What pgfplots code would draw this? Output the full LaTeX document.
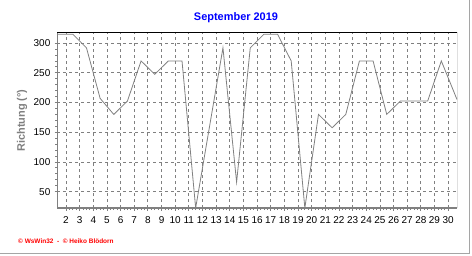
\documentclass[border=0pt]{standalone}
\usepackage{fontspec}
\setmainfont{Liberation Sans}
\usepackage{pgfplots}
\pgfplotsset{compat=1.18}
\definecolor{gridgray}{RGB}{128,128,128}
\definecolor{titleblue}{RGB}{0,0,255}
\definecolor{framegray}{RGB}{165,165,165}
\definecolor{footred}{RGB}{255,0,0}
\pgfplotstableread{
x y
1.30 315
2.5 315
3.5 292
4.5 207
5.5 180
6.5 202.5
7.5 270
8.5 247.5
9.5 270
10.5 270
11.5 22.5
12.5 157.5
13.5 292
14.5 66
15.5 292
16.5 315
17.5 315
18.5 270
19.5 22.5
20.5 180
21.5 157.5
22.5 180
23.5 270
24.5 270
25.5 180
26.5 202.5
27.5 202.5
28.5 202.5
29.5 270
30.65 205
}\richtung
\begin{document}
\begin{tikzpicture}[x=1bp,y=1bp]
\path[use as bounding box] (0,0) rectangle (472,255);
\draw[framegray, line width=1bp] (0,1.5) -- (469.5,1.5) -- (469.5,255);
\begin{axis}[
 at={(57bp,47bp)}, anchor=south west,
 width=400bp, height=175bp, scale only axis,
 xmin=1.34, xmax=30.65, ymin=22.5, ymax=317,
 xtick={2,...,30}, ytick={50,100,...,300},
 minor x tick num=3, minor y tick num=4,
 tick align=outside, major tick length=2.5bp, minor tick length=2bp,
 xtick pos=bottom, ytick pos=left,
 tick style={gridgray, line width=0.8bp},
 grid=major,
 major grid style={gridgray, dash pattern=on 3bp off 3bp, line width=0.8bp},
 axis line style={draw=none},
 /pgf/number format/assume math mode=true,
 ticklabel style={font=\fontsize{10}{12}\selectfont, text=black},
 xticklabel style={inner sep=1pt, yshift=-5bp},
 yticklabel style={inner sep=1pt, xshift=-3bp},
 every axis title shift=0pt,
 title={September 2019},
 title style={at={(axis description cs:0.4475,1.086)}, anchor=center, font=\fontsize{11}{13}\selectfont\bfseries, text=titleblue},
 ylabel={Richtung (°)},
 ylabel style={at={(axis description cs:-0.0875,0.5)}, anchor=center, rotate=0, font=\fontsize{11}{13}\selectfont\bfseries, text=gridgray},
 clip=true,
]
\addplot[gridgray, line width=0.8bp, no marks] table[x=x,y=y] {\richtung};
\draw[gridgray, line width=2bp] (rel axis cs:0,1) -- (rel axis cs:0,0) -- (rel axis cs:1,0);
\draw[black, line width=1bp] (rel axis cs:0,1) -- (rel axis cs:1,1) -- (rel axis cs:1,0);
\end{axis}
\node[anchor=west, text=footred, font=\fontsize{6.5}{8}\selectfont\bfseries, inner sep=0pt] at (18,14.3) {© WsWin32 \ - \ © Heiko Blödorn};
\end{tikzpicture}
\end{document}
